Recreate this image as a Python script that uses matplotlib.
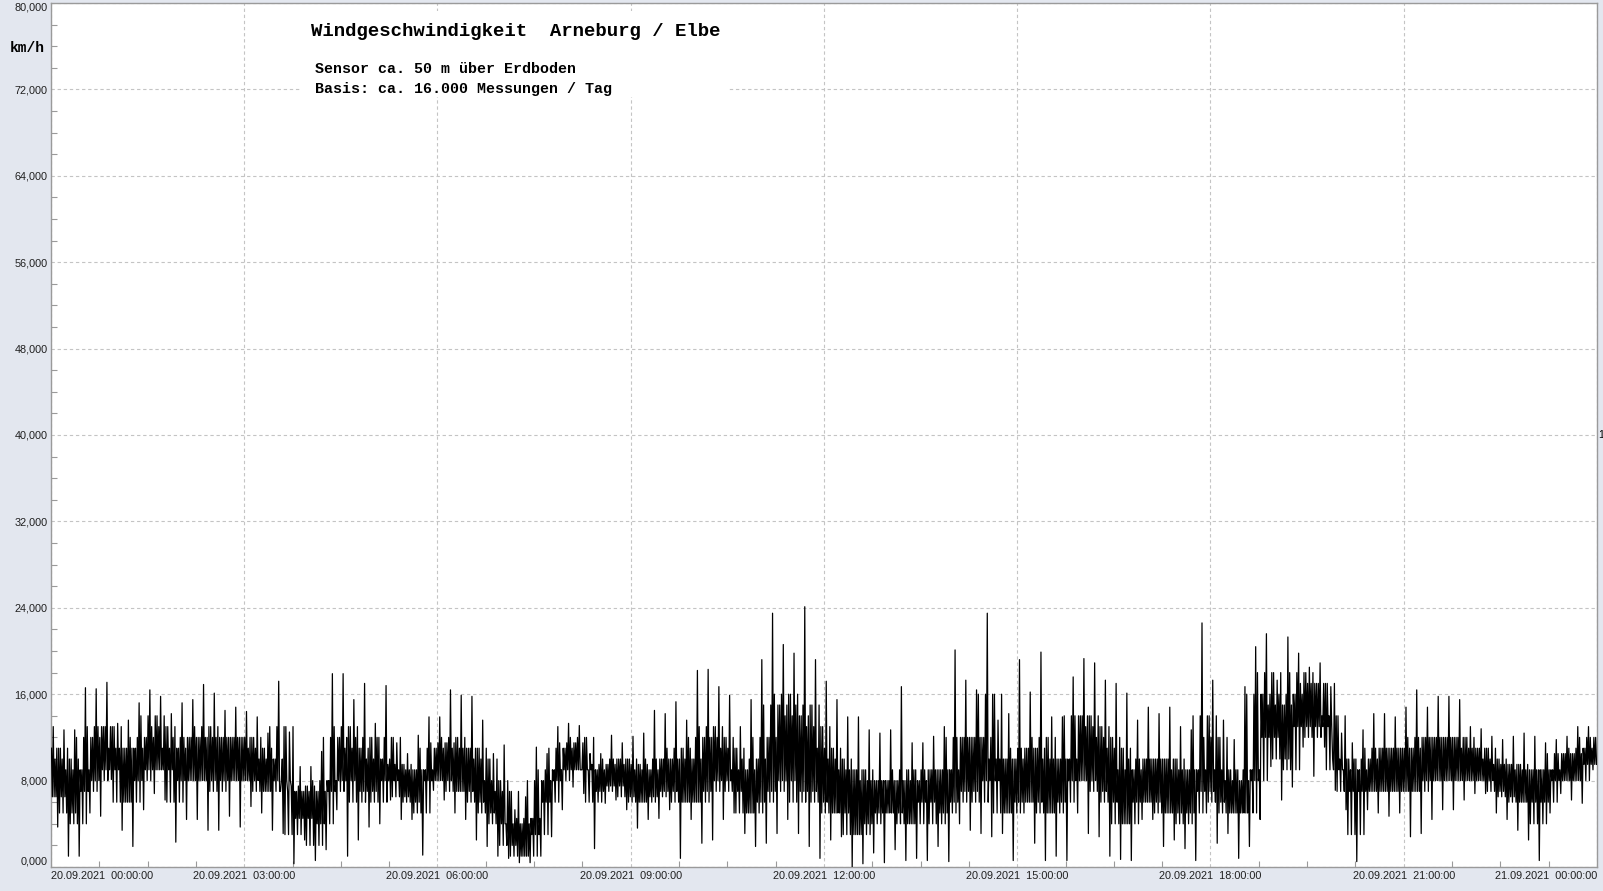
import numpy as np
import matplotlib
matplotlib.use("Agg")
import matplotlib.pyplot as plt
from matplotlib.patches import Rectangle
from matplotlib.ticker import MultipleLocator, FixedLocator

# wind speed [km/h] in 10-minute bins (144 bins = 24 h)
peak = [
    13.0, 12.7, 12.7, 16.6, 16.5, 17.1, 13.3, 13.6, 15.2, 16.4, 15.8, 14.2, 15.2, 15.5, 16.9, 16.1, 14.5, 14.8,
    14.4, 13.9, 12.4, 17.2, 12.5, 9.3, 9.3, 10.7, 17.9, 17.9, 15.5, 17.0, 13.3, 16.8, 11.5, 10.5, 12.2, 13.9,
    13.9, 16.4, 15.9, 15.8, 13.6, 10.5, 11.3, 5.3, 6.5, 11.1, 10.5, 13.0, 13.3, 13.1, 10.5, 10.5, 12.2, 11.5,
    12.1, 12.4, 14.5, 14.2, 15.3, 13.6, 18.2, 18.3, 16.7, 15.9, 13.0, 15.5, 19.2, 23.5, 20.6, 19.8, 24.1, 19.2,
    17.2, 15.5, 13.9, 13.9, 12.7, 12.4, 12.7, 16.7, 11.5, 11.5, 12.1, 13.0, 20.1, 17.3, 16.4, 23.5, 13.6, 14.2,
    19.2, 16.2, 19.9, 13.9, 13.9, 17.6, 19.3, 18.9, 17.3, 17.0, 16.1, 13.6, 14.8, 14.2, 14.8, 13.0, 12.7, 22.6,
    17.3, 13.6, 11.8, 16.7, 20.4, 21.6, 17.3, 21.3, 19.8, 18.5, 18.9, 16.7, 12.4, 11.5, 12.7, 14.2, 14.2, 13.9,
    14.8, 16.4, 14.8, 15.8, 15.8, 15.5, 13.0, 12.8, 12.1, 11.8, 12.1, 12.4, 12.1, 11.5, 11.8, 12.1, 13.0, 13.0,
]
trough = [
    3.7, 1.0, 1.0, 5.0, 4.7, 8.1, 3.4, 1.9, 5.3, 6.8, 6.2, 2.3, 4.4, 4.4, 3.4, 3.4, 4.7, 3.7,
    5.6, 5.0, 3.4, 3.1, 0.3, 2.5, 0.6, 1.6, 5.3, 1.0, 2.5, 3.7, 4.0, 6.2, 4.4, 4.4, 1.1, 7.1,
    6.2, 5.0, 4.4, 2.5, 1.9, 1.0, 0.8, 0.4, 0.4, 1.0, 2.8, 5.3, 7.4, 6.8, 1.7, 5.9, 6.2, 5.3,
    3.6, 4.4, 4.5, 5.3, 0.8, 4.4, 2.2, 2.5, 4.4, 5.0, 3.1, 1.9, 2.2, 3.1, 4.4, 3.1, 1.9, 0.8,
    2.5, 2.8, 0.0, 0.3, 1.3, 0.4, 1.6, 0.6, 0.8, 0.6, 1.9, 0.5, 4.0, 3.4, 3.1, 2.8, 3.1, 0.6,
    5.0, 2.2, 0.6, 1.0, 0.6, 5.0, 3.1, 2.8, 1.0, 0.7, 0.6, 4.4, 4.4, 1.9, 2.5, 1.7, 0.6, 5.0,
    2.2, 3.1, 0.8, 1.9, 4.4, 9.3, 6.2, 7.4, 11.1, 8.4, 11.1, 7.1, 5.3, 0.5, 5.3, 5.0, 4.7, 5.0,
    2.8, 3.1, 4.4, 5.3, 5.3, 6.2, 6.8, 6.8, 5.0, 4.4, 3.4, 2.5, 0.6, 5.0, 6.8, 6.2, 5.9, 9.0,
]
core_lo = [
    6.5, 5, 4, 7, 8, 9, 6, 6, 8, 9, 9, 6, 8, 8, 8, 7, 8, 8,
    8, 7, 7, 8, 3, 4.5, 2, 4, 7, 8, 6, 7, 6, 8, 6.5, 6, 5, 8,
    8, 7, 7, 6, 5, 4, 2, 1, 1, 3, 6, 8, 9, 9, 6, 7, 7.5, 6.5,
    6, 6, 6.5, 7, 6, 6, 6, 7, 8, 7, 5, 5, 6, 7, 8, 6, 7, 6,
    5, 5, 3, 3, 4, 5, 5, 4, 4, 6, 4, 5, 6, 7, 6, 8, 5, 5,
    6, 6, 5, 5, 6, 8, 8, 7, 6, 4, 4, 6, 6, 5, 5, 4, 5, 7,
    6, 5, 5, 5, 8, 12, 10, 9, 13, 12, 13, 9, 7, 3, 7, 7, 7, 7,
    7, 7, 8, 8, 8, 8, 8, 8, 7, 6.5, 6, 6, 4, 6, 8, 8, 8, 9.5,
]
core_hi = [
    11, 10, 9, 12, 13, 13, 11, 11, 12, 14, 13, 11, 12, 12, 13, 12, 12, 12,
    12, 11, 10, 13, 7, 7.5, 7, 8, 12, 13, 11, 12, 10, 12, 9.5, 9, 9, 11,
    11.5, 12, 11, 11, 10, 8, 7, 4, 4.5, 8, 9, 11, 11.5, 12, 9, 9.5, 10, 10,
    9.5, 9, 10, 10, 11, 10, 12, 13, 12, 11, 9, 10, 12, 15, 16, 14, 15, 13,
    11, 10, 9, 9, 8, 8, 8, 9, 8, 9, 9, 9, 12, 12, 12, 16, 10, 10,
    11, 11, 12, 10, 10, 14, 14, 13, 12, 11, 9, 10, 10, 10, 10, 9, 9, 14,
    12, 9, 8, 9, 16, 18, 15, 16, 18, 17, 17, 14, 10, 9, 10, 11, 11, 11,
    11, 12, 12, 12, 12, 12, 11, 11, 10, 9.5, 9.5, 9, 9, 9, 10.5, 10.5, 11, 12,
]

tick_labels = [
    "20.09.2021  00:00:00", "20.09.2021  03:00:00", "20.09.2021  06:00:00",
    "20.09.2021  09:00:00", "20.09.2021  12:00:00", "20.09.2021  15:00:00",
    "20.09.2021  18:00:00", "20.09.2021  21:00:00", "21.09.2021  00:00:00",
]
y_ticks = [0, 8, 16, 24, 32, 40, 48, 56, 64, 72, 80]

BG = "#e3e7ef"
GRID = "#c4c4c4"
SPINE = "#9a9a9a"


def main():
    n = len(peak)
    bin_h = 24.0 / n
    start = np.arange(n) * bin_h

    hi = np.asarray(core_hi, float)
    lo = np.asarray(core_lo, float)
    # neighbouring bins' band edges (ends repeated) to roughen the band
    hi_prev = np.r_[hi[0], hi[:-1]]
    hi_next = np.r_[hi[1:], hi[-1]]
    lo_prev = np.r_[lo[0], lo[:-1]]
    lo_next = np.r_[lo[1:], lo[-1]]

    # samples per bin, all read values: dense band, one spike up, one spike down
    order = [hi, lo, np.asarray(peak, float), lo_prev, hi_next, lo, hi_prev,
             np.asarray(trough, float), hi, lo_next, hi, lo]
    m = len(order)
    xs = (start[:, None] + (np.arange(m) + 0.5)[None, :] * bin_h / m).ravel()
    ys = np.column_stack(order).ravel()

    fig = plt.figure(figsize=(16.03, 8.91), dpi=100, facecolor=BG)
    ax = fig.add_axes([51 / 1603, 24 / 891, 1546 / 1603, 864 / 891])
    ax.set_facecolor("white")

    ax.plot(xs, ys, color="black", lw=0.9, zorder=3)

    ax.set_xlim(0, 24)
    ax.set_ylim(0, 80)

    ax.xaxis.set_major_locator(FixedLocator(np.arange(0, 25, 3)))
    ax.xaxis.set_minor_locator(MultipleLocator(0.75))
    ax.yaxis.set_major_locator(FixedLocator(y_ticks))
    ax.yaxis.set_minor_locator(MultipleLocator(2))
    ax.set_xticklabels(tick_labels)
    ax.set_yticklabels([f"{v:.3f}".replace(".", ",") for v in y_ticks])

    ax.tick_params(which="both", direction="in", color=SPINE, labelsize=7.8,
                   labelcolor="#202020")
    ax.tick_params(which="major", length=0)
    ax.tick_params(which="minor", length=4.5, width=0.8)
    ax.tick_params(axis="y", pad=2.5)
    ax.tick_params(axis="x", pad=3)
    for lab in ax.get_yticklabels() + ax.get_xticklabels():
        lab.set_fontfamily("Liberation Sans")
    xl = ax.get_xticklabels()
    xl[0].set_ha("left")
    xl[-1].set_ha("right")
    yl = ax.get_yticklabels()
    yl[0].set_va("bottom")
    yl[-1].set_va("top")

    ax.grid(True, which="major", color=GRID, lw=0.8, ls=(0, (3, 2.5)))
    ax.set_axisbelow(True)
    for s in ax.spines.values():
        s.set_color(SPINE)
        s.set_linewidth(1.0)

    # white box behind the heading (hides the grid there)
    ax.add_patch(Rectangle((3.86, 71.3), 6.65, 8.0, facecolor="white",
                           edgecolor="none", zorder=1.5))

    mono = "Liberation Mono"
    fig.text(311 / 1603, 1 - 32 / 891, "Windgeschwindigkeit  Arneburg / Elbe",
             family=mono, weight="bold", fontsize=13.7, va="center", ha="left")
    fig.text(315 / 1603, 1 - 69 / 891, "Sensor ca. 50 m über Erdboden",
             family=mono, weight="bold", fontsize=10.8, va="center", ha="left")
    fig.text(315 / 1603, 1 - 89 / 891, "Basis: ca. 16.000 Messungen / Tag",
             family=mono, weight="bold", fontsize=10.8, va="center", ha="left")
    fig.text(10 / 1603, 1 - 48 / 891, "km/h", family=mono, weight="bold",
             fontsize=10.5, va="center", ha="left")
    fig.text(1598.5 / 1603, 1 - 435 / 891, "1", family="Liberation Sans",
             fontsize=7.6, va="center", ha="left")

    fig.savefig("out.png", dpi=100, facecolor=BG)
    plt.close(fig)


if __name__ == "__main__":
    main()
